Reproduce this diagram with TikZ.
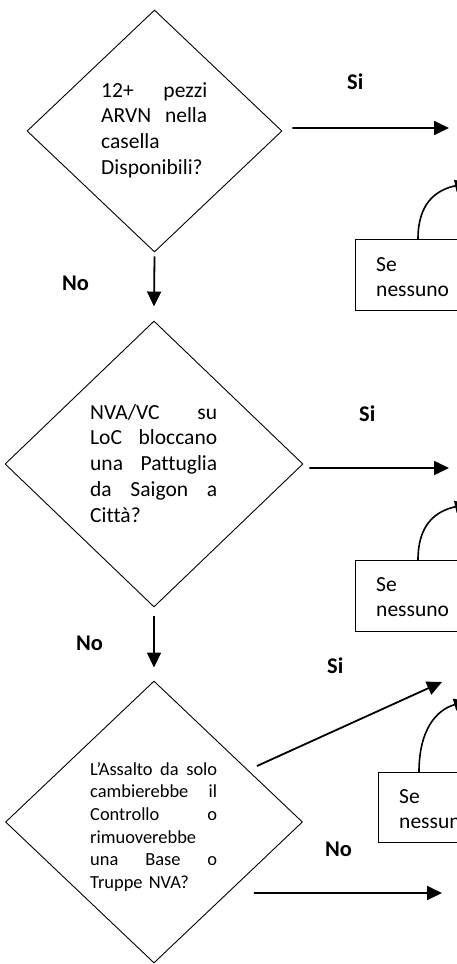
\documentclass[tikz,border=0pt]{standalone}
\usepackage{fontspec}
\setmainfont{Carlito}[Ligatures=NoCommon]
\usetikzlibrary{shapes.geometric,arrows.meta}
\newcommand\jline[2]{\leavevmode\hbox to #1{#2}}
\begin{document}
\begin{tikzpicture}[x=1bp,y=-1bp,
  dec/.style={draw, diamond, inner sep=0pt, line width=0.9bp},
  qtext/.style={anchor=base west, inner sep=0pt, text width=#1, align=left},
  big/.style={font=\fontsize{21.6}{26}\selectfont},
  small/.style={font=\fontsize{18.5}{22.8}\selectfont},
  arr/.style={line width=1.8bp, -{Triangle[length=15bp,width=14bp]}},
  carr/.style={line width=1.6bp, -{Triangle[length=13bp,width=12bp]}},
  lab/.style={anchor=base west, inner sep=0pt, font=\fontsize{22.5}{26}\selectfont\bfseries},
  sebox/.style={draw, line width=1.3bp, anchor=north west, minimum width=200bp, inner sep=0pt},
  setext/.style={anchor=base west, inner sep=0pt, text width=120bp, align=left, font=\fontsize{21.6}{26}\selectfont},
]
\useasboundingbox (0,0) rectangle (457,964);
\clip (0,0) rectangle (457,964);
\fill[white] (0,0) rectangle (457,964);

% decisions
\node[dec, minimum width=255bp, minimum height=242bp] (d1) at (154.5,131) {};
\node[dec, minimum width=298bp, minimum height=286bp] (d2) at (154,464) {};
\node[dec, minimum width=297bp, minimum height=282bp] (d3) at (154,822) {};

\node[qtext=106bp, big] (t1) at (101,97) {\jline{106bp}{12+\hfill pezzi}\\\jline{106bp}{ARVN\hfill nella}\\casella\\Disponibili?};
\node[qtext=127bp, big] (t2) at (90,419) {\jline{127bp}{NVA/VC\hfill su}\\\jline{127bp}{LoC\hfill bloccano}\\\jline{127bp}{una\hfill Pattuglia}\\\jline{127bp}{da\hfill Saigon\hfill a}\\Città?};
\begin{scope}
\clip (0,0) rectangle (457,890);
\node[qtext=127bp, small] (t3) at (90,775) {\jline{127bp}{L’Assalto\hfill da\hfill solo}\\\jline{127bp}{cambierebbe\hfill il}\\\jline{127bp}{Controllo\hfill o}\\rimuoverebbe\\\jline{127bp}{una\hfill Base\hfill o}\\Truppe NVA?};
\end{scope}

% side boxes
\node[sebox, minimum height=71bp] (b1) at (355,239) {};
\node[setext] (b1t) at (376,271) {Se\\nessuno};
\node[sebox, minimum height=71bp] (b2) at (355,560) {};
\node[setext] (b2t) at (376,591) {Se\\nessuno};
\node[sebox, minimum height=70bp] (b3) at (378,772) {};
\node[setext] (b3t) at (399,803) {Se\\nessuno};

% free ends
\coordinate (e1) at (449,128);
\coordinate (e2) at (449,468);
\coordinate (e3) at (442,682);
\coordinate (e4) at (442,893);
\coordinate (c1) at (468,183);
\coordinate (c2) at (468,504);
\coordinate (c3) at (467,701);

% connectors
\draw[arr] ([xshift=10bp,yshift=3bp]d1.east) -- (e1);
\draw[arr] ([yshift=-4bp]d1.south) -- ([yshift=14bp]d2.north);
\draw[arr] ([xshift=6bp,yshift=-4bp]d2.east) -- (e2);
\draw[arr] ([yshift=-9bp]d2.south) -- ([yshift=13bp]d3.north);
\draw[arr] ([xshift=-46bp,yshift=56bp]d3.east) -- (e3);
\draw[arr] ([xshift=-49bp,yshift=-71bp]d3.east) -- (e4);

\draw[carr] ([xshift=63bp]b1.north west) .. controls (418,203) and (436,190) .. (c1);
\draw[carr] ([xshift=63bp]b2.north west) .. controls (418,524) and (436,511) .. (c2);
\draw[carr] ([xshift=41bp]b3.north west) .. controls (419,730) and (436,710) .. (c3);

% labels
\node[lab] (l1) at (347,89) {Si};
\node[lab] (l2) at (62,290) {No};
\node[lab] (l3) at (359,421) {Si};
\node[lab] (l4) at (76,650) {No};
\node[lab] (l5) at (327,673) {Si};
\node[lab] (l6) at (325,856) {No};
\end{tikzpicture}
\end{document}
